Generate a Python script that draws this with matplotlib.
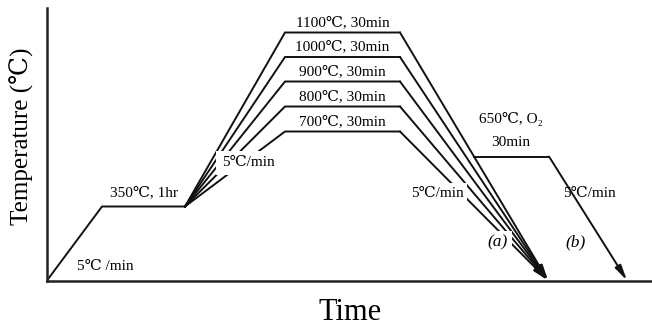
import numpy as np
import matplotlib
matplotlib.use("Agg")
import matplotlib.pyplot as plt

plt.rcParams['font.family'] = ['Liberation Serif', 'DejaVu Serif', 'Noto Sans CJK KR']

W, H = 652, 329

# --- process data (schematic time units, temperatures in degC) ---
room_temp = 25
pre_temp = 350
anneal_temps = [1100, 1000, 900, 800, 700]
oxid_temp = 650

t_start = 0
t_pre_start = 55
t_pre_end = 138
t_peak_start = 238
t_peak_end = 353
t_end_a = 501
t_ox_end = 502
t_end_b = 580

# piecewise schematic temperature axis
T_KNOTS = [25, 350, 650, 700, 800, 900, 1000, 1100, 1200]
P_KNOTS = [0, 74, 124, 149, 174, 199, 223.5, 248, 272.5]


def fwd(t):
    return np.interp(t, T_KNOTS, P_KNOTS)


def inv(p):
    return np.interp(p, P_KNOTS, T_KNOTS)


fig = plt.figure(figsize=(W / 100, H / 100), dpi=100)
ax = fig.add_axes([47 / W, (H - 280.5) / H, (W - 47) / W, 272.5 / H])
ax.set_yscale('function', functions=(fwd, inv))
ax.set_xlim(0, W - 47)
ax.set_ylim(25, 1200)
ax.set_xticks([])
ax.set_yticks([])
ax.minorticks_off()
for s in ['top', 'right']:
    ax.spines[s].set_visible(False)
for s in ['left', 'bottom']:
    ax.spines[s].set_linewidth(1.8)
    ax.spines[s].set_color('#222222')

lc = '#111111'
lw = 1.4
fs = 11

# heating to pre-bake and hold
ax.plot([t_start, t_pre_start, t_pre_end], [room_temp, pre_temp, pre_temp],
        color=lc, lw=lw, zorder=2, solid_joinstyle='miter')

arrow_props = dict(arrowstyle='-|>,head_length=0.9,head_width=0.2', lw=lw,
                   color=lc, shrinkA=0, shrinkB=0)

# ramp, anneal hold and cooling (a) for each anneal temperature
for T in anneal_temps:
    ax.plot([t_pre_end, t_peak_start, t_peak_end], [pre_temp, T, T],
            color=lc, lw=lw, zorder=2, solid_joinstyle='miter')
    ax.annotate('', xy=(t_end_a, room_temp), xytext=(t_peak_end, T),
                arrowprops=arrow_props, zorder=2)
    ax.annotate(f'{T}℃, 30min', xy=((t_peak_start + t_peak_end) / 2, T),
                xytext=(0, 2.5), textcoords='offset points', ha='center',
                va='bottom', fontsize=fs, zorder=4)

# route (b): cool from the top anneal to the oxidation hold
top = max(anneal_temps)
frac = (fwd(top) - fwd(oxid_temp)) / (fwd(top) - fwd(room_temp))
t_ox_start = t_peak_end + frac * (t_end_a - t_peak_end)
ax.plot([t_ox_start, t_ox_end], [oxid_temp, oxid_temp], color=lc, lw=lw, zorder=2)
ax.annotate('', xy=(t_end_b, room_temp), xytext=(t_ox_end, oxid_temp),
            arrowprops=arrow_props, zorder=2)

ax.annotate('350℃, 1hr', xy=((t_pre_start + t_pre_end) / 2, pre_temp),
            xytext=(0, 5), textcoords='offset points', ha='center', va='bottom',
            fontsize=fs)

box = dict(facecolor='white', edgecolor='none', pad=2.5)


def ftext(x, y, s, **kw):
    kw.setdefault('fontsize', fs)
    fig.text(x / W, 1 - y / H, s, ha='center', va='center', **kw)


ftext(105, 267, '5℃ /min')
ftext(248, 163, '5℃/min', bbox=dict(facecolor='white', edgecolor='none', pad=4), zorder=5)
ftext(437, 193, '5℃/min', bbox=box, zorder=5)
ftext(498, 242, '(a)', style='italic', fontsize=12.5, bbox=box, zorder=5)
ftext(511, 119, '650℃, O₂')
ftext(511, 143, '30min')
ftext(589, 193, '5℃/min')
ftext(576, 242, '(b)', style='italic', fontsize=12.5)

ftext(22, 136, 'Temperature (℃)', rotation=90, fontsize=18)
ftext(350, 312, 'Time', fontsize=22)

fig.savefig('out.png', dpi=100)
